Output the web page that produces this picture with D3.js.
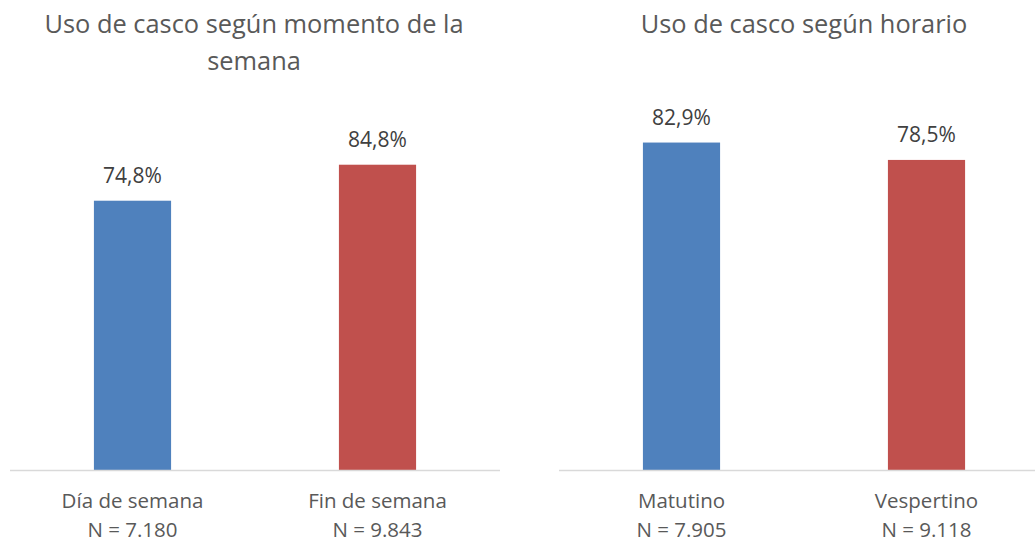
<!DOCTYPE html>
<html lang="es">
<head>
<meta charset="UTF-8">
<title>Uso de casco</title>
<script src="https://cdn.jsdelivr.net/npm/d3@7"></script>
<style>
  body { margin: 0; background: #fff; font-family: "Open Sans", sans-serif; }
  svg { display: block; }
  .title { fill: #595959; font-size: 25.4px; }
  .val { fill: #404040; font-size: 21px; }
  .cat { fill: #595959; font-size: 20.5px; }
</style>
</head>
<body>
<svg id="chart" width="1035" height="543"></svg>
<script>
// panel 1: momento de la semana
var titleSemana = ["Uso de casco según momento de la", "semana"];
var catsSemana = ["Día de semana", "Fin de semana"];
var nSemana = ["N = 7.180", "N = 9.843"];
var valsSemana = [74.8, 84.8];

// panel 2: horario
var titleHorario = ["Uso de casco según horario"];
var catsHorario = ["Matutino", "Vespertino"];
var nHorario = ["N = 7.905", "N = 9.118"];
var valsHorario = [82.9, 78.5];

var colors = ["#4f81bd", "#c0504d"];

var svg = d3.select("#chart");

function drawPanel(opts) {
  var g = svg.append("g");
  var x = d3.scaleBand().domain(opts.cats).range([opts.x0, opts.x1]).paddingInner(0.685).paddingOuter(0.3425);
  var y = d3.scaleLinear().domain([0, 100]).range([470, opts.top]);

  // title
  var t = g.append("text").attr("class", "title").attr("text-anchor", "middle");
  opts.title.forEach(function(line, i) {
    t.append("tspan").attr("x", opts.titleX).attr("y", 33 + i * 37).text(line);
  });

  var data = opts.cats.map(function(c, i) { return { cat: c, v: opts.vals[i], n: opts.ns[i], color: colors[i] }; });

  g.selectAll("rect").data(data).enter().append("rect")
    .attr("x", function(d) { return x(d.cat); })
    .attr("width", x.bandwidth())
    .attr("y", function(d) { return y(d.v); })
    .attr("height", function(d) { return y(0) - y(d.v); })
    .attr("fill", function(d) { return d.color; });

  // axis line
  g.append("line")
    .attr("x1", opts.x0).attr("x2", opts.x1)
    .attr("y1", y(0) + 0.5).attr("y2", y(0) + 0.5)
    .attr("stroke", "#d9d9d9").attr("stroke-width", 1.5);

  g.selectAll("text.val").data(data).enter().append("text")
    .attr("class", "val").attr("text-anchor", "middle")
    .attr("x", function(d) { return x(d.cat) + x.bandwidth() / 2; })
    .attr("y", function(d) { return y(d.v) - 18; })
    .text(function(d) { return d.v.toFixed(1).replace(".", ",") + "%"; });

  var c = g.selectAll("text.cat").data(data).enter().append("text")
    .attr("class", "cat").attr("text-anchor", "middle");
  c.append("tspan")
    .attr("x", function(d) { return x(d.cat) + x.bandwidth() / 2; })
    .attr("y", 508)
    .text(function(d) { return d.cat; });
  c.append("tspan")
    .attr("x", function(d) { return x(d.cat) + x.bandwidth() / 2; })
    .attr("y", 537)
    .text(function(d) { return d.n; });
}

drawPanel({ title: titleSemana, cats: catsSemana, vals: valsSemana, ns: nSemana,
  x0: 10, x1: 500, top: 110, titleX: 254 });
drawPanel({ title: titleHorario, cats: catsHorario, vals: valsHorario, ns: nHorario,
  x0: 559, x1: 1049, top: 75, titleX: 804 });
</script>
</body>
</html>
